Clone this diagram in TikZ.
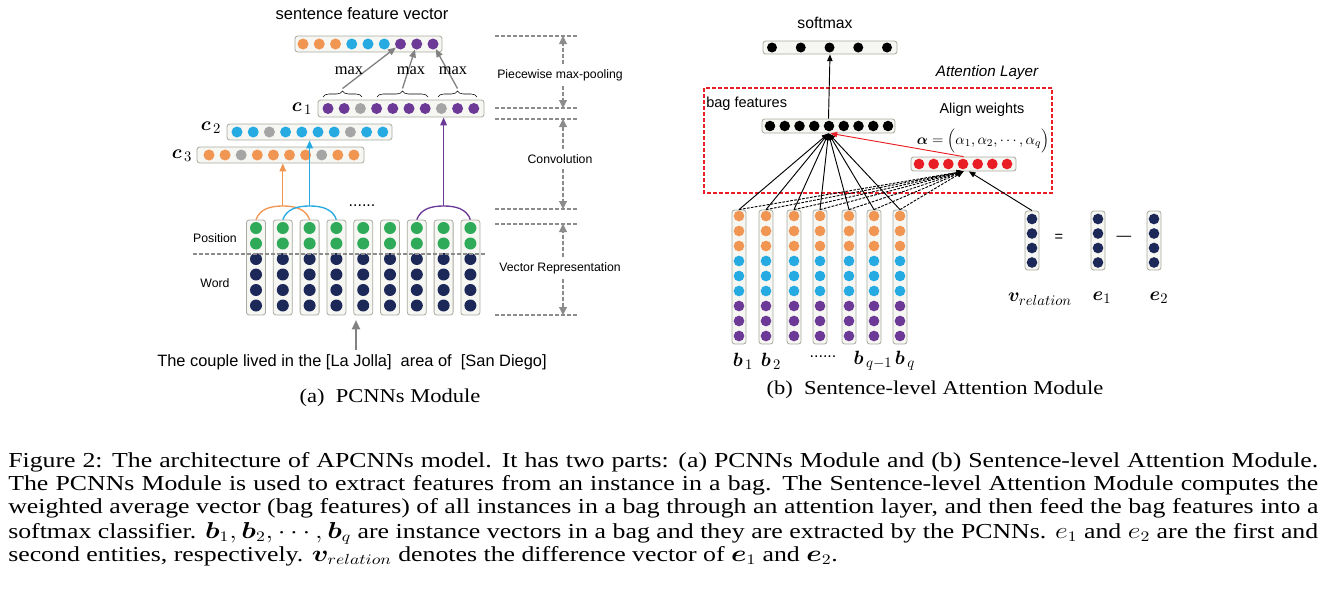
\documentclass[tikz,border=0pt]{standalone}
\usepackage{fontspec}
\usepackage{graphicx}
\usepackage{bm}
\setmainfont{Liberation Serif}
\newfontfamily\labelfont{Liberation Sans}
\usetikzlibrary{arrows.meta,decorations.pathreplacing}

\definecolor{dorange}{RGB}{240,150,82}
\definecolor{dblue}{RGB}{38,170,226}
\definecolor{dpurple}{RGB}{108,58,150}
\definecolor{dgray}{RGB}{165,165,165}
\definecolor{dgreen}{RGB}{46,170,88}
\definecolor{dnavy}{RGB}{28,40,88}
\definecolor{dred}{RGB}{232,30,36}
\definecolor{boxline}{RGB}{170,170,160}
\definecolor{boxfill}{RGB}{246,246,243}
\definecolor{stagegray}{RGB}{140,140,140}
\definecolor{arrowgray}{RGB}{130,130,130}

% caption lines are set a little wider than the font
\newcommand{\capline}[1]{\scalebox{1.21}[1]{\makebox[812pt][s]{#1}}}

\begin{document}
\begin{tikzpicture}[x=0.75pt, y=-0.75pt,
  vecbox/.style={draw=boxline, fill=boxfill, rounded corners=2pt, line width=0.6pt, inner sep=0pt},
  vdot/.style={circle, inner sep=0pt, minimum size=#1},
  lbl/.style={font=\labelfont\fontsize{#1}{#1}\selectfont, inner sep=0pt},
  mathlbl/.style={font=\fontsize{#1}{#1}\selectfont, inner sep=0pt},
  stageline/.style={draw=stagegray, dash pattern=on 3pt off 1.5pt, line width=0.8pt},
  stagearrow/.style={draw=stagegray, fill=stagegray, dash pattern=on 3pt off 1.5pt, line width=0.8pt,
    -{Triangle[length=6pt,width=6pt]}, shorten <=4pt},
  convline/.style={line width=1pt, -{Triangle[length=6pt,width=5pt]}},
  maxarrow/.style={draw=arrowgray, line width=1pt, -{Triangle[length=6pt,width=5pt]}},
  batt/.style={line width=0.7pt, -{Triangle[length=5pt,width=4pt]}},
  capfont/.style={font=\fontsize{16}{17.25}\selectfont, inner sep=0pt, anchor=base west}]
  \useasboundingbox (0,0) rectangle (1325,593);

  % (a) sentence feature vector
  \node[lbl=12.4] (sfvtitle) at (362,14) {sentence feature vector};
  \node[vecbox, minimum width=110.25pt, minimum height=12pt] (sfv) at (368.5,44) {};
  \foreach \c [count=\i] in {dorange,dorange,dorange,dblue,dblue,dblue,dpurple,dpurple,dpurple}
    \node[vdot=8.25pt, fill=\c] (sfv-\i) at ({303+(\i-1)*16.25},44) {};

  % (a) convolution outputs
  \node[vecbox, minimum width=124.5pt, minimum height=12.75pt] (c1) at (401,108.5) {};
  \foreach \c [count=\i] in {dpurple,dpurple,dgray,dpurple,dpurple,dpurple,dpurple,dgray,dpurple,dpurple}
    \node[vdot=8.25pt, fill=\c] (c1-\i) at ({328+(\i-1)*16.2},108.5) {};
  \node[vecbox, minimum width=123.75pt, minimum height=12pt] (c2) at (309.5,132) {};
  \foreach \c [count=\i] in {dblue,dblue,dgray,dblue,dblue,dblue,dblue,dgray,dblue,dblue}
    \node[vdot=8.25pt, fill=\c] (c2-\i) at ({237+(\i-1)*16.2},132) {};
  \node[vecbox, minimum width=125.25pt, minimum height=12pt] (c3) at (280.5,155) {};
  \foreach \c [count=\i] in {dorange,dorange,dgray,dorange,dorange,dorange,dorange,dgray,dorange,dorange}
    \node[vdot=8.25pt, fill=\c] (c3-\i) at ({209+(\i-1)*16.1},155) {};
  \node[mathlbl=15] (c1lbl) at (302,109) {$\bm{c}_{\,1}$};
  \node[mathlbl=15] (c2lbl) at (211,128) {$\bm{c}_{\,2}$};
  \node[mathlbl=15] (c3lbl) at (182,156) {$\bm{c}_{\,3}$};

  % (a) piecewise max-pooling
  \draw[decorate, decoration={brace, amplitude=4.5pt}] (323,97) -- (362,97);
  \draw[decorate, decoration={brace, amplitude=4.5pt}] (377,97) -- (428,97);
  \draw[decorate, decoration={brace, amplitude=4.5pt}] (438,97) -- (477,97);
  \coordinate (br1) at (342.5,88.5);
  \coordinate (br2) at (402.5,88.5);
  \coordinate (br3) at (457.5,88.5);
  \draw[maxarrow] (br1) -- (sfv-7);
  \draw[maxarrow] (br2) -- (sfv-8);
  \draw[maxarrow] (br3) -- (sfv-9);
  \node[mathlbl=12.3] (max1) at (349,71) {max};
  \node[mathlbl=12.3] (max2) at (411,71) {max};
  \node[mathlbl=12.3] (max3) at (453,71) {max};

  % (a) word and position vectors
  \foreach \i in {1,...,9} {
    \node[vecbox, minimum width=14.25pt, minimum height=71.25pt] (wcol-\i) at ({256+(\i-1)*26.8},267.5) {};
    \foreach \c [count=\j] in {dgreen,dgreen,dnavy,dnavy,dnavy,dnavy}
      \node[vdot=9pt, fill=\c] (w-\i-\j) at ({256+(\i-1)*26.8},{228+(\j-1)*15.5}) {};
  }
  \draw[draw=stagegray, dash pattern=on 3pt off 1.5pt, line width=0.8pt] (193,254) -- (486,254);
  \node[lbl=9.2] (poslbl) at (215,238) {Position};
  \node[lbl=9.2] (wordlbl) at (215,283) {Word};
  \node[lbl=12] (wdots) at (362,206) {......};

  % (a) filter windows
  \coordinate (opeak) at (282.8,206);
  \coordinate (bpeak) at (309.6,206);
  \coordinate (ppeak) at (443.6,206);
  \draw[dorange, line width=1pt] (wcol-1.north) to[out=70,in=180] (opeak) to[out=0,in=110] (wcol-3.north);
  \draw[dorange, fill=dorange, convline] (opeak) -- (opeak |- c3.south);
  \draw[dblue, line width=1pt] (wcol-2.north) to[out=70,in=180] (bpeak) to[out=0,in=110] (wcol-4.north);
  \draw[dblue, fill=dblue, convline] (bpeak) -- (bpeak |- c2.south);
  \draw[dpurple, line width=1pt] (wcol-7.north) to[out=70,in=180] (ppeak) to[out=0,in=110] (wcol-9.north);
  \draw[dpurple, fill=dpurple, convline] (ppeak) -- (ppeak |- c1.south);

  % (a) input sentence
  \node[lbl=12.3] (sent) at (352,362) {The couple lived in the [La Jolla]\ \ area of\ \ [San Diego]};
  \coordinate (wtip) at (356,320);
  \draw[draw=arrowgray, fill=arrowgray, line width=1.5pt, -{Triangle[length=7pt,width=6pt]}, shorten <=3pt]
    (sent.north -| wtip) -- (wtip);

  % (a) stages
  \foreach \y in {36,108,119,209,224,315}
    \draw[stageline] (495,\y) -- (578,\y);
  \coordinate (s1) at (563,36);
  \coordinate (s2) at (563,108);
  \coordinate (s3) at (563,119);
  \coordinate (s4) at (563,209);
  \coordinate (s5) at (563,224);
  \coordinate (s6) at (563,315);
  \node[lbl=9.2] (ppool) at (560,75) {Piecewise max-pooling};
  \node[lbl=9.2] (conv) at (560,159) {Convolution};
  \node[lbl=9.2] (vrep) at (560,268) {Vector Representation};
  \draw[stagearrow] (ppool.north -| s1) -- (s1);
  \draw[stagearrow] (ppool.south -| s2) -- (s2);
  \draw[stagearrow] (conv.north -| s3) -- (s3);
  \draw[stagearrow] (conv.south -| s4) -- (s4);
  \draw[stagearrow] (vrep.north -| s5) -- (s5);
  \draw[stagearrow] (vrep.south -| s6) -- (s6);

  % (b) attention layer
  \draw[dred, dash pattern=on 3pt off 1.5pt, line width=0.8pt] (704,88) rectangle (1052,193);
  \node[lbl=11.4, font=\labelfont\itshape\fontsize{11.4}{11.4}\selectfont] (attlbl) at (987,73) {Attention Layer};
  \node[lbl=10.9, anchor=west] (baglbl) at (706,104) {bag features};
  \node[lbl=10.8] (alignlbl) at (982,110) {Align weights};
  \node[mathlbl=11] (alpha) at (983,141) {$\bm{\alpha}=\Big(\alpha_1,\alpha_2,\cdots,\alpha_q\Big)$};

  % (b) softmax, bag features and weights
  \node[lbl=11.8] (smlbl) at (825,23) {softmax};
  \node[vecbox, minimum width=100.5pt, minimum height=9.75pt] (sm) at (830,47.5) {};
  \foreach \i in {1,...,5}
    \node[vdot=7.5pt, fill=black] (sm-\i) at ({772+(\i-1)*28.75},47.5) {};
  \node[vecbox, minimum width=99.75pt, minimum height=10.5pt] (bag) at (828.5,126) {};
  \foreach \i in {1,...,9}
    \node[vdot=7.9pt, fill=black] (bag-\i) at ({770+(\i-1)*14.75},126) {};
  \node[vecbox, minimum width=78.75pt, minimum height=10.5pt] (alw) at (963.5,164) {};
  \foreach \i in {1,...,7}
    \node[vdot=8pt, fill=dred] (alw-\i) at ({919+(\i-1)*14.67},164) {};

  % (b) instance vectors
  \foreach \x [count=\i] in {739,766,794,820,849,874,900} {
    \node[vecbox, minimum width=10.5pt, minimum height=100.5pt] (bcol-\i) at (\x,277) {};
    \foreach \c [count=\j] in {dorange,dorange,dorange,dblue,dblue,dblue,dpurple,dpurple,dpurple}
      \node[vdot=8pt, fill=\c] (b-\i-\j) at (\x,{216+(\j-1)*15}) {};
  }
  \node[mathlbl=15] (b1lbl) at (743,361) {$\bm{b}_{\,1}$};
  \node[mathlbl=15] (b2lbl) at (771,361) {$\bm{b}_{\,2}$};
  \node[lbl=12] (bdots) at (823,357) {......};
  \node[mathlbl=15] (bq1lbl) at (873,361) {$\bm{b}_{\,q-1}$};
  \node[mathlbl=15] (bqlbl) at (905,361) {$\bm{b}_{\,q}$};

  % (b) relation vector
  \foreach \x/\n in {1032/vrel,1098/eone,1154/etwo} {
    \node[vecbox, minimum width=10.5pt, minimum height=44.25pt] (\n) at (\x,240.5) {};
    \foreach \j in {1,...,4}
      \node[vdot=8pt, fill=dnavy] (\n-\j) at (\x,{219+(\j-1)*14.5}) {};
  }
  \node[lbl=11] (eqlbl) at (1059,238) {=};
  \node[lbl=11] (minuslbl) at (1124,238) {\textemdash};
  \node[mathlbl=15] (vrellbl) at (1040,299) {$\bm{v}_{relation}$};
  \node[mathlbl=15] (e1lbl) at (1102,298) {$\bm{e}_1$};
  \node[mathlbl=15] (e2lbl) at (1159,298) {$\bm{e}_2$};

  % (b) connections
  \draw[batt] (bag.north) -- (sm.south);
  \foreach \i in {1,...,7} {
    \draw[batt] (bcol-\i.north) -- (bag.south);
    \draw[batt, dash pattern=on 2pt off 1pt] (bcol-\i.north) -- (alw.south);
  }
  \draw[batt] (vrel.north) -- ([xshift=4pt]alw.south);
  \draw[batt, dred] (alw.north) -- ([xshift=1.5pt]bag.south);

  % sub-captions
  \node[mathlbl=14.7] (suba) at (390,398) {\scalebox{1.15}[1]{(a)~ PCNNs Module}};
  \node[mathlbl=14.7] (subb) at (935,390) {\scalebox{1.15}[1]{(b)~ Sentence-level Attention Module}};

  % caption
  \node[capfont] (cap1) at (8,467) {\capline{Figure 2: The architecture of APCNNs model. It has two parts: (a) PCNNs Module and (b) Sentence-level Attention Module.}};
  \node[capfont] (cap2) at (8,490) {\capline{The PCNNs Module is used to extract features from an instance in a bag. The Sentence-level Attention Module computes the}};
  \node[capfont] (cap3) at (8,513) {\capline{weighted average vector (bag features) of all instances in a bag through an attention layer, and then feed the bag features into a}};
  \node[capfont] (cap4) at (8,538) {\capline{softmax classifier. $\bm{b}_1,\bm{b}_2,\cdots,\bm{b}_q$ are instance vectors in a bag and they are extracted by the PCNNs. $e_1$ and $e_2$ are the first and}};
  \node[capfont] (cap5) at (8,561) {\scalebox{1.21}[1]{second entities, respectively. $\bm{v}_{relation}$ denotes the difference vector of $\bm{e}_1$ and $\bm{e}_2$.}};
\end{tikzpicture}
\end{document}
